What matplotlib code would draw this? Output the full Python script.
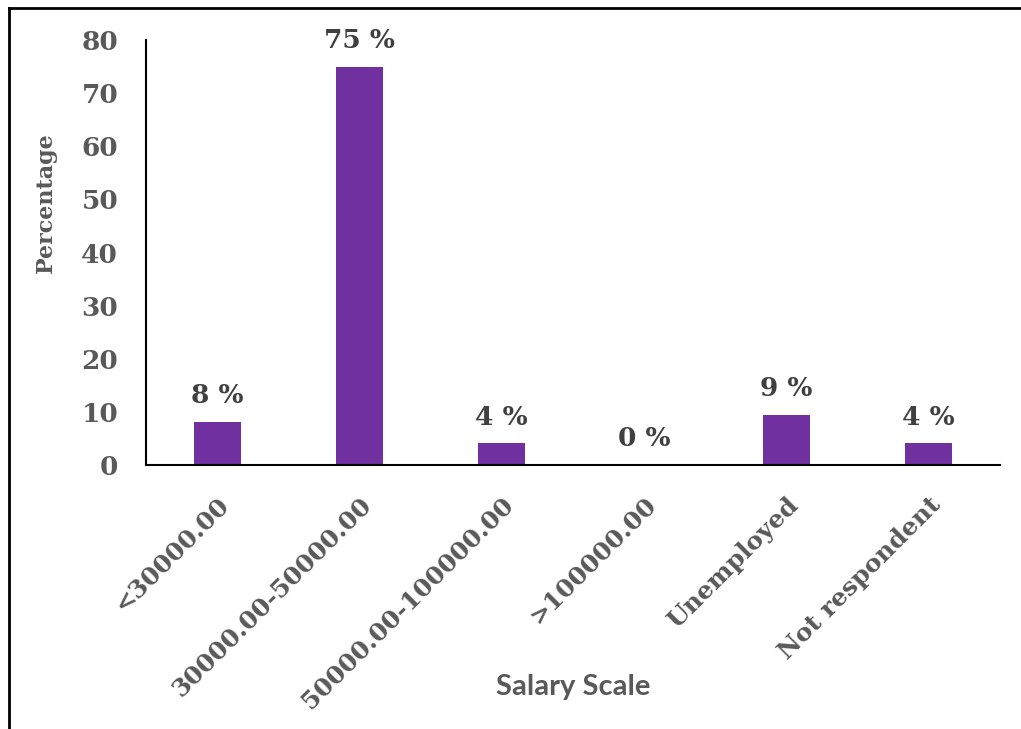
import numpy as np
import matplotlib.pyplot as plt
from matplotlib.lines import Line2D

categories = ['<30000.00', '30000.00-50000.00', '50000.00-100000.00',
              '>100000.00', 'Unemployed', 'Not respondent']
values = [8.1, 75, 4.1, 0, 9.4, 4.1]
labels = ['8 %', '75 %', '4 %', '0 %', '9 %', '4 %']

serif = ['DejaVu Serif']
grey = '#595959'

fig = plt.figure(figsize=(10.21, 7.29), dpi=100)
ax = fig.add_axes([0.143, 0.362, 0.836, 0.583])

x = np.arange(len(categories))
ax.bar(x, values, width=0.33, color='#7030A0', zorder=2)
for xi, v, lab in zip(x, values, labels):
    ax.text(xi, v + 2.6, lab, ha='center', va='bottom', fontsize=19,
            fontweight='bold', family=serif, color='#404040')

ax.set_xlim(-0.5, 5.5)
ax.set_ylim(0, 80)
ax.set_yticks(range(0, 81, 10))
ax.set_xticks(x)
ax.set_xticklabels(categories, rotation=45, ha='right', va='top',
                   rotation_mode='anchor', fontsize=18, fontweight='bold',
                   family=serif, color=grey)
for t in ax.get_yticklabels():
    t.set_fontsize(19)
    t.set_fontweight('bold')
    t.set_family(serif)
    t.set_color(grey)
ax.tick_params(axis='both', length=0)
ax.tick_params(axis='y', pad=20)
ax.tick_params(axis='x', pad=20)
for s in ['top', 'right']:
    ax.spines[s].set_visible(False)
ax.spines['left'].set_linewidth(1.5)
ax.spines['bottom'].set_linewidth(1.5)

fig.text(0.561, 0.058, 'Salary Scale', ha='center', va='center', fontsize=21,
         fontweight='bold', family=['Lato', 'DejaVu Sans'], color=grey)
fig.text(0.045, 0.722, 'Percentage', ha='center', va='center', rotation=90,
         fontsize=16, fontweight='bold', family=serif, color=grey)

# outer frame (left and top edges only visible)
fig.add_artist(Line2D([0.009, 0.009], [0.0, 0.989], color='black', lw=2))
fig.add_artist(Line2D([0.009, 1.0], [0.989, 0.989], color='black', lw=2))

fig.savefig('out.png', dpi=100)
